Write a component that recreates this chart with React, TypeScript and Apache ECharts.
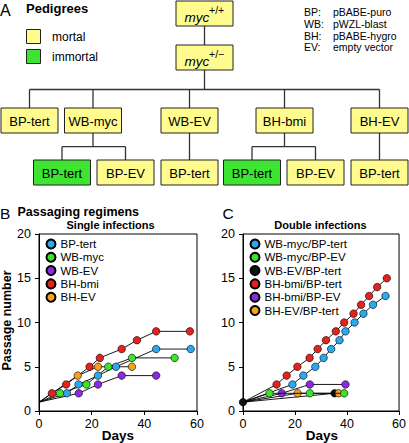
import React, { useEffect, useRef } from "react";
import * as echarts from "echarts";

// ---------- Data ----------
// Panel A: pedigree
const rootGenotypes = ["+/+", "+/\u2212"];
const level1Labels = ["BP-tert", "WB-myc", "WB-EV", "BH-bmi", "BH-EV"];
const level2Labels = [[], ["BP-tert", "BP-EV"], ["BP-tert"], ["BP-tert", "BP-EV"], ["BP-tert"]];
const level2Immortal = [[], [true, false], [false], [true, false], [false]];
const keyAbbrev = ["BP:", "WB:", "BH:", "EV:"];
const keyMeaning = ["pBABE-puro", "pWZL-blast", "pBABE-hygro", "empty vector"];
const legendA = ["mortal", "immortal"];

// Panel B: single infections
const singleNames = ["BP-tert", "WB-myc", "WB-EV", "BH-bmi", "BH-EV"];
const bpTertDays = [0, 10.6, 15, 22.4, 29.2, 44.5, 57.6];
const bpTertPass = [1, 2, 3, 4, 5, 7, 7];
const wbMycDays = [0, 8, 18, 26.3, 35.3, 51.5];
const wbMycPass = [1, 2, 3, 5, 6, 6];
const wbEvDays = [0, 15.1, 22.4, 31.4, 44.5];
const wbEvPass = [1, 2, 3, 4, 4];
const bhBmiDays = [0, 4.9, 10.3, 19.2, 23.1, 31.4, 37.2, 44.5, 57.3];
const bhBmiPass = [1, 2, 3, 5, 6, 7, 8, 9, 9];
const bhEvDays = [0, 14.7, 22.4, 35.3];
const bhEvPass = [1, 4, 5, 5];

// Panel C: double infections
const doubleNames = ["WB-myc/BP-tert", "WB-myc/BP-EV", "WB-EV/BP-tert", "BH-bmi/BP-tert", "BH-bmi/BP-EV", "BH-EV/BP-tert"];
const wmBtDays = [0, 19, 23.2, 27.8, 31, 33.9, 37.1, 39.4, 42.9, 46.3, 50, 54.8];
const wmBtPass = [1, 3, 4, 5, 6, 7, 8, 9, 10, 11, 12, 13];
const wmBeDays = [0, 10.2, 25.7, 38.9];
const wmBePass = [1, 2, 2, 2];
const weBtDays = [0, 35.2];
const weBtPass = [1, 2];
const bbBtDays = [0, 12.9, 16.8, 20.9, 25.6, 28.7, 31.9, 35.7, 38.9, 42.5, 45.4, 48.5, 51.6, 55.3];
const bbBtPass = [1, 3, 4, 5, 6, 7, 8, 9, 10, 11, 12, 13, 14, 15];
const bbBeDays = [0, 14.9, 25.7, 39.4];
const bbBePass = [1, 2, 3, 3];
const heBtDays = [0, 21, 36.8];
const heBtPass = [1, 2, 2];

const xTicks = [0, 60, 20];
const yTicks = [0, 20, 5];

// ---------- Styles / layout ----------
const FONT = '"Liberation Sans", Arial, Helvetica, sans-serif';
const YELLOW = "#FFFB8E";
const GREEN = "#3DE432";
const C_BLUE = "#2BA9EC";
const C_GREEN = "#3CE32A";
const C_PURPLE = "#8A2BE2";
const C_RED = "#E5231E";
const C_ORANGE = "#F6A11D";
const C_BLACK = "#111111";

const BOX_W = 57;
const BOX_H = 25;
const ROOT_X = 176;
const ROOT_Y = [1, 45];
const L1_Y = 108;
const L2_Y = 160;
const BUS_Y = 89.5;
const SUB_Y = 146.7;
const L1_CX = [29.5, 93, 189.5, 284.5, 379.5];
const L2_CX = [[], [62, 125.5], [189.5], [252, 315.5], [379.5]];

function txt(x: number, y: number, text: string, extra: any = {}) {
  const fs = extra.fontSize || 12;
  return {
    type: "text",
    x,
    y,
    silent: true,
    rotation: extra.rotation || 0,
    style: {
      text,
      fill: "#000",
      fontFamily: FONT,
      fontSize: fs,
      lineHeight: extra.lineHeight || fs,
      fontWeight: extra.fontWeight || "normal",
      fontStyle: extra.fontStyle || "normal",
      align: extra.align || "left",
      textAlign: extra.align || "left",
      verticalAlign: extra.va || "middle",
      textVerticalAlign: extra.va || "middle",
    },
  };
}
function box(cx: number, y: number, fill: string) {
  return {
    type: "rect",
    silent: true,
    shape: { x: cx - BOX_W / 2, y, width: BOX_W, height: BOX_H },
    style: { fill, stroke: "#222", lineWidth: 1 },
  };
}
function ln(x1: number, y1: number, x2: number, y2: number) {
  return {
    type: "line",
    silent: true,
    shape: { x1, y1, x2, y2 },
    style: { stroke: "#333", lineWidth: 1.3 },
  };
}

function buildPedigree() {
  const els: any[] = [];
  const rootCx = ROOT_X + BOX_W / 2;
  // connectors
  els.push(ln(rootCx, ROOT_Y[0] + BOX_H, rootCx, ROOT_Y[1]));
  els.push(ln(rootCx, ROOT_Y[1] + BOX_H, rootCx, BUS_Y));
  els.push(ln(L1_CX[0], BUS_Y, L1_CX[L1_CX.length - 1], BUS_Y));
  L1_CX.forEach((cx) => els.push(ln(cx, BUS_Y, cx, L1_Y)));
  L2_CX.forEach((kids, i) => {
    if (kids.length === 0) return;
    const pcx = L1_CX[i];
    if (kids.length === 1) {
      els.push(ln(pcx, L1_Y + BOX_H, kids[0], L2_Y));
    } else {
      els.push(ln(pcx, L1_Y + BOX_H, pcx, SUB_Y));
      els.push(ln(kids[0], SUB_Y, kids[kids.length - 1], SUB_Y));
      kids.forEach((k) => els.push(ln(k, SUB_Y, k, L2_Y)));
    }
  });
  // root boxes
  rootGenotypes.forEach((g, i) => {
    els.push(box(rootCx, ROOT_Y[i], YELLOW));
    els.push(txt(rootCx - 20, ROOT_Y[i] + 16.5, "myc", { fontSize: 13.5, fontStyle: "italic", va: "middle" }));
    els.push(txt(rootCx + 4.5, ROOT_Y[i] + 9, g, { fontSize: 10.5, va: "middle" }));
  });
  // level 1
  level1Labels.forEach((lab, i) => {
    els.push(box(L1_CX[i], L1_Y, YELLOW));
    els.push(txt(L1_CX[i], L1_Y + BOX_H / 2 + 0.5, lab, { fontSize: 13, align: "center" }));
  });
  // level 2
  level2Labels.forEach((kids, i) => {
    kids.forEach((lab, j) => {
      const cx = L2_CX[i][j];
      els.push(box(cx, L2_Y, level2Immortal[i][j] ? GREEN : YELLOW));
      els.push(txt(cx, L2_Y + BOX_H / 2 + 0.5, lab, { fontSize: 13, align: "center" }));
    });
  });
  // Title and legend
  els.push(txt(0, 10, "A", { fontSize: 16 }));
  els.push(txt(26, 8, "Pedigrees", { fontSize: 13, fontWeight: "bold" }));
  legendA.forEach((lab, i) => {
    els.push({
      type: "rect",
      silent: true,
      shape: { x: 26.5, y: 29.5 + i * 20, width: 14, height: 14 },
      style: { fill: i === 0 ? YELLOW : GREEN, stroke: "#222", lineWidth: 1 },
    });
    els.push(txt(52, 37 + i * 20, lab, { fontSize: 12 }));
  });
  keyAbbrev.forEach((a, i) => {
    els.push(txt(304, 12 + i * 11.8, a, { fontSize: 10.5 }));
    els.push(txt(333, 12 + i * 11.8, keyMeaning[i], { fontSize: 10.5 }));
  });
  return els;
}

function pts(days: number[], pass: number[], showFirst: boolean) {
  return days.map((d, i) => ({ value: [d, pass[i]], symbolSize: i === 0 && !showFirst ? 0 : 7.5 }));
}
function mk(name: string, days: number[], pass: number[], color: string, g: number, showFirst = false, z = 2) {
  return {
    type: "line",
    name,
    xAxisIndex: g,
    yAxisIndex: g,
    data: pts(days, pass, showFirst),
    symbol: "circle",
    z,
    itemStyle: { color, borderColor: "#000", borderWidth: 0.6 },
    lineStyle: { color: "#000", width: 0.9 },
    emphasis: { disabled: true },
  };
}

function axisX(g: number) {
  return {
    gridIndex: g,
    type: "value",
    min: xTicks[0],
    max: xTicks[1],
    interval: xTicks[2],
    axisLine: { show: true, onZero: false, lineStyle: { color: "#000", width: 1 } },
    axisTick: { show: true, length: 4, lineStyle: { color: "#000" } },
    axisLabel: { color: "#000", fontSize: 12.5, fontFamily: FONT, margin: 6 },
    splitLine: { show: false },
  };
}
function axisY(g: number) {
  return {
    gridIndex: g,
    type: "value",
    min: yTicks[0],
    max: yTicks[1],
    interval: yTicks[2],
    axisLine: { show: true, onZero: false, lineStyle: { color: "#000", width: 1 } },
    axisTick: { show: true, length: 4, lineStyle: { color: "#000" } },
    axisLabel: { color: "#000", fontSize: 12.5, fontFamily: FONT, margin: 8 },
    splitLine: { show: false },
  };
}
function legendFor(names: string[], left: number) {
  return {
    data: names,
    orient: "vertical",
    left,
    top: 238,
    padding: 0,
    icon: "circle",
    itemWidth: 9,
    itemHeight: 9,
    itemGap: 1.3,
    selectedMode: false,
    textStyle: { color: "#000", fontSize: 11.5, fontFamily: FONT, lineHeight: 12, padding: [0, 0, 0, 0] },
  };
}

export default function App() {
  const ref = useRef<HTMLDivElement>(null);
  useEffect(() => {
    if (!ref.current) return;
    const chart = echarts.init(ref.current, null, { renderer: "svg" });
    const graphics: any[] = buildPedigree();
    graphics.push(txt(0, 213, "B", { fontSize: 15.5 }));
    graphics.push(txt(17.5, 211.5, "Passaging regimens", { fontSize: 12.5, fontWeight: "bold" }));
    graphics.push(txt(110.5, 225, "Single infections", { fontSize: 11, fontWeight: "bold", align: "center" }));
    graphics.push(txt(222.5, 213, "C", { fontSize: 15.5 }));
    graphics.push(txt(320.5, 225, "Double infections", { fontSize: 11, fontWeight: "bold", align: "center" }));
    graphics.push(txt(118, 435.5, "Days", { fontSize: 13.5, fontWeight: "bold", align: "center" }));
    graphics.push(txt(322, 435.5, "Days", { fontSize: 13.5, fontWeight: "bold", align: "center" }));
    graphics.push(txt(7, 320.5, "Passage number", { fontSize: 12.5, fontWeight: "bold", align: "center", rotation: Math.PI / 2 }));

    const singleColors = [C_BLUE, C_GREEN, C_PURPLE, C_RED, C_ORANGE];
    const singleDays = [bpTertDays, wbMycDays, wbEvDays, bhBmiDays, bhEvDays];
    const singlePass = [bpTertPass, wbMycPass, wbEvPass, bhBmiPass, bhEvPass];
    const doubleColors = [C_BLUE, C_GREEN, C_BLACK, C_RED, C_PURPLE, C_ORANGE];
    const doubleDays = [wmBtDays, wmBeDays, weBtDays, bbBtDays, bbBeDays, heBtDays];
    const doublePass = [wmBtPass, wmBePass, weBtPass, bbBtPass, bbBePass, heBtPass];

    const series: any[] = [];
    singleNames.forEach((n, i) => series.push(mk(n, singleDays[i], singlePass[i], singleColors[i], 0)));
    doubleNames.forEach((n, i) =>
      series.push(mk(n, doubleDays[i], doublePass[i], doubleColors[i], 1, i === 2, i === 1 ? 3 : 2))
    );

    chart.setOption({
      animation: false,
      backgroundColor: "#fff",
      grid: [
        { left: 39, top: 234, width: 158, height: 177, show: true, borderColor: "#000", borderWidth: 1, backgroundColor: "transparent" },
        { left: 243, top: 234, width: 158, height: 177, show: true, borderColor: "#000", borderWidth: 1, backgroundColor: "transparent" },
      ],
      xAxis: [axisX(0), axisX(1)],
      yAxis: [axisY(0), axisY(1)],
      legend: [legendFor(singleNames, 45.5), legendFor(doubleNames, 249.5)],
      series,
      graphic: { elements: graphics },
    });
    return () => chart.dispose();
  }, []);
  return (
    <div
      ref={ref}
      style={{ position: "fixed", left: 0, top: 0, width: 409, height: 443, background: "#fff" }}
    />
  );
}
